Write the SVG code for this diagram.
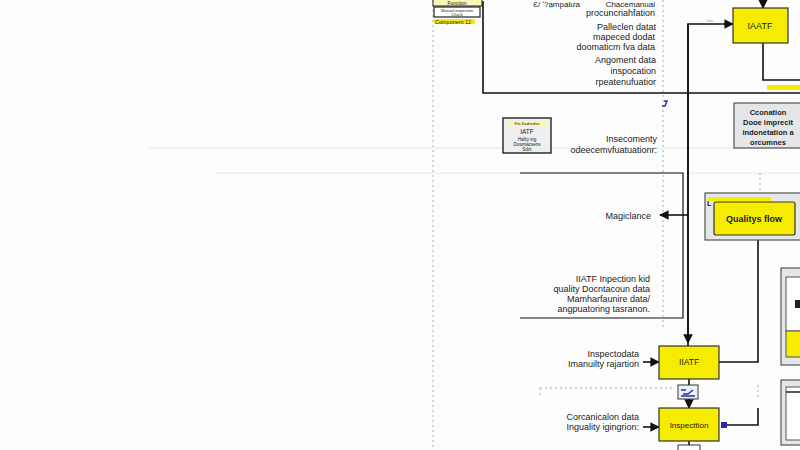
<svg xmlns="http://www.w3.org/2000/svg" width="800" height="450" viewBox="0 0 800 450">
<defs>
<style>
.t{font-family:"Liberation Sans",Arial,sans-serif;font-size:9px;fill:#222}
.r{text-anchor:end}
.c{text-anchor:middle}
.ln{fill:none;stroke:#111;stroke-width:1.6}
.dot{fill:none;stroke:#aaa;stroke-width:1;stroke-dasharray:2 3}
.faint{fill:none;stroke:#e6e6e6;stroke-width:1}
.yel{fill:#f6ec00;stroke:#333;stroke-width:1.2}
.gbox{fill:#e4e6e8;stroke:#555;stroke-width:1.2}
</style>
<marker id="ah" viewBox="0 0 10 10" refX="9" refY="5" markerWidth="6" markerHeight="6" orient="auto"><path d="M0,0L10,5L0,10z" fill="#111"/></marker>
</defs>
<rect width="800" height="450" fill="#fdfdfd"/>
<g id="guides">
<line class="dot" x1="433" y1="0" x2="433" y2="450"/>
<line class="dot" x1="663" y1="0" x2="663" y2="330"/>
<line class="faint" x1="150" y1="148" x2="800" y2="148"/>
<line class="faint" x1="215" y1="173" x2="683" y2="173"/>
<line class="faint" x1="690" y1="173" x2="800" y2="173"/>
<line class="dot" x1="540" y1="388" x2="672" y2="388"/>
<line class="dot" x1="540" y1="388" x2="540" y2="396"/>
<line class="dot" x1="760" y1="173" x2="760" y2="195"/>
<line class="dot" x1="758" y1="385" x2="758" y2="400"/>
</g>
<g id="connectors">
<polyline class="ln" points="482,2 483,2 483,93 800,93"/>
<polyline class="ln" points="688,350 688,24 733,24" marker-end="url(#ah)"/>
<line class="ln" x1="763" y1="-2" x2="763" y2="8" marker-end="url(#ah)"/>
<polyline class="ln" points="763,43 763,80 800,80"/>
<rect x="767" y="85" width="33" height="5" fill="#f6ec00"/>
<polyline class="ln" points="688,24 688,343" marker-end="url(#ah)"/>
<polyline class="ln" style="stroke-width:1.2" points="520,173 683,173 683,318 520,318"/>
<line class="ln" x1="688" y1="215" x2="660" y2="215" marker-end="url(#ah)"/>
<polyline class="ln" points="758,240 758,362 719,362"/>
<line class="ln" x1="643" y1="362" x2="659" y2="362" marker-end="url(#ah)"/>
<line class="ln" x1="643" y1="427" x2="659" y2="427" marker-end="url(#ah)"/>
<line class="ln" x1="689" y1="379" x2="689" y2="385"/>
<line class="ln" x1="689" y1="399" x2="689" y2="408" marker-end="url(#ah)"/>
<polyline class="ln" points="727,425 758,425 758,408"/>
<rect x="721" y="422" width="6" height="6" fill="#2a2aa8"/>
<line class="ln" x1="689" y1="441" x2="689" y2="450"/>
<path d="M664,101 L667,101 L665,106 L662,106" fill="none" stroke="#2a2aa8" stroke-width="1.5"/>
</g>
<g id="n-function">
<rect x="433" y="-4" width="49" height="10" fill="#fbf6b8" stroke="#222" stroke-width="1"/>
<text class="t c" x="457" y="5" style="font-size:5px">Function</text>
</g>
<g id="n-manual">
<rect x="434" y="7" width="46" height="10" fill="#fff" stroke="#222" stroke-width="1.2"/>
<text class="t c" x="457" y="11.5" style="font-size:4px">Manual inspection</text>
<text class="t c" x="457" y="15.5" style="font-size:4px">Check</text>
</g>
<g id="n-component">
<rect x="434" y="19" width="41" height="5" fill="#f6ec00"/>
<text class="t" x="435" y="23.5" style="font-size:5.5px">Component 12</text>
</g>
<g id="labels-top">
<text class="t r" x="580" y="7" style="font-size:8px">Ɛ/ ʹ?ạmpalưa</text>
<text class="t r" x="655" y="7" style="font-size:8px">Chacemanual</text>
<text class="t r" x="655" y="16">procuncriahfation</text>
<text class="t r" x="656" y="30">Palleclen datat</text>
<text class="t r" x="655" y="40">mapeced dodat</text>
<text class="t r" x="655" y="50">doomaticm fva data</text>
<text class="t r" x="656" y="63">Angoment data</text>
<text class="t r" x="656" y="74">inspocation</text>
<text class="t r" x="656" y="85">rpeatenufuatior</text>
<text class="t" x="707" y="22" style="font-size:4px;fill:#888">sss</text>
</g>
<g id="n-iaatf">
<rect class="yel" x="733" y="8" width="55" height="35"/>
<text class="t c" x="760" y="29">IAATF</text>
</g>
<g id="n-coonation">
<rect class="gbox" x="734" y="103" width="70" height="45"/>
<text class="t c" x="768" y="115" style="font-weight:bold;font-size:7.5px">Cconation</text>
<text class="t c" x="768" y="125" style="font-weight:bold;font-size:7.5px">Dooe imprecit</text>
<text class="t c" x="768" y="135" style="font-weight:bold;font-size:7.5px">indonetation a</text>
<text class="t c" x="768" y="145" style="font-weight:bold;font-size:7.5px">orcumnes</text>
</g>
<g id="n-iatf-small">
<rect x="503" y="118" width="48" height="35" fill="#eef0f0" stroke="#222" stroke-width="1.4"/>
<rect x="507" y="121" width="40" height="5" fill="#fff8a0"/>
<text class="t c" x="527" y="125" style="font-size:4px">Kfa Kadsedse</text>
<text class="t c" x="527" y="134" style="font-size:6.5px">IATF</text>
<text class="t c" x="527" y="141" style="font-size:4.5px">Hallty ing</text>
<text class="t c" x="527" y="146" style="font-size:4.5px">Downtacsens</text>
<text class="t c" x="527" y="151" style="font-size:4.5px">Sdrit</text>
</g>
<g id="labels-mid">
<text class="t r" x="657" y="142">Insecomenty</text>
<text class="t r" x="657" y="153">odeecemvfuatuationr:</text>
<text class="t r" x="651" y="219">Magiclance</text>
<text class="t r" x="650" y="282">IIATF Inpection kid</text>
<text class="t r" x="650" y="292">quality Docntacoun data</text>
<text class="t r" x="650" y="302">Mamharfaunire data/</text>
<text class="t r" x="650" y="312">angpuatoring tasranon.</text>
</g>
<g id="n-quality">
<rect class="gbox" x="705" y="193" width="100" height="47"/>
<rect x="708" y="197" width="63" height="4" fill="#f6ec00"/>
<text class="t" x="707" y="206" style="font-size:7px;font-weight:bold">L</text>
<rect class="yel" x="714" y="202" width="81" height="33" rx="2"/>
<text class="t c" x="754" y="222" style="font-weight:bold">Qualitys flow</text>
</g>
<g id="n-right1">
<rect class="gbox" x="781" y="268" width="25" height="97"/>
<rect x="786" y="277" width="20" height="54" fill="#fff" stroke="#555"/>
<rect x="795" y="300" width="5" height="8" fill="#222"/>
<rect x="786" y="331" width="20" height="26" fill="#f6ec00" stroke="#555"/>
</g>
<g id="n-right2">
<rect class="gbox" x="781" y="380" width="25" height="65"/>
<rect x="786" y="387" width="20" height="53" fill="#fff" stroke="#555"/>
<line x1="786" y1="392" x2="800" y2="392" stroke="#222" stroke-width="1.5"/>
</g>
<g id="n-iatf">
<rect class="yel" x="659" y="346" width="60" height="33"/>
<text class="t c" x="689" y="365" style="font-size:8.5px">IIATF</text>
<text class="t r" x="639" y="357">Inspectodata</text>
<text class="t r" x="639" y="367">Imanuilty rajartion</text>
</g>
<g id="n-icon">
<rect x="678" y="385" width="20" height="14" fill="#eef2f8" stroke="#333" stroke-width="1"/>
<path d="M681,390 L686,390 M683,394 L688,394 L693,390 M681,396 L695,396" stroke="#2a2aa8" stroke-width="1.4" fill="none"/>
</g>
<g id="n-inspection">
<rect class="yel" x="659" y="408" width="60" height="33"/>
<text class="t c" x="689" y="428" style="font-size:8px">Inspecttion</text>
<text class="t r" x="639" y="420">Corcanicalon data</text>
<text class="t r" x="639" y="430">Inguality igingrion:</text>
</g>
<g id="n-bottom">
<rect x="678" y="445" width="22" height="10" fill="#fff" stroke="#333"/>
</g>
</svg>
